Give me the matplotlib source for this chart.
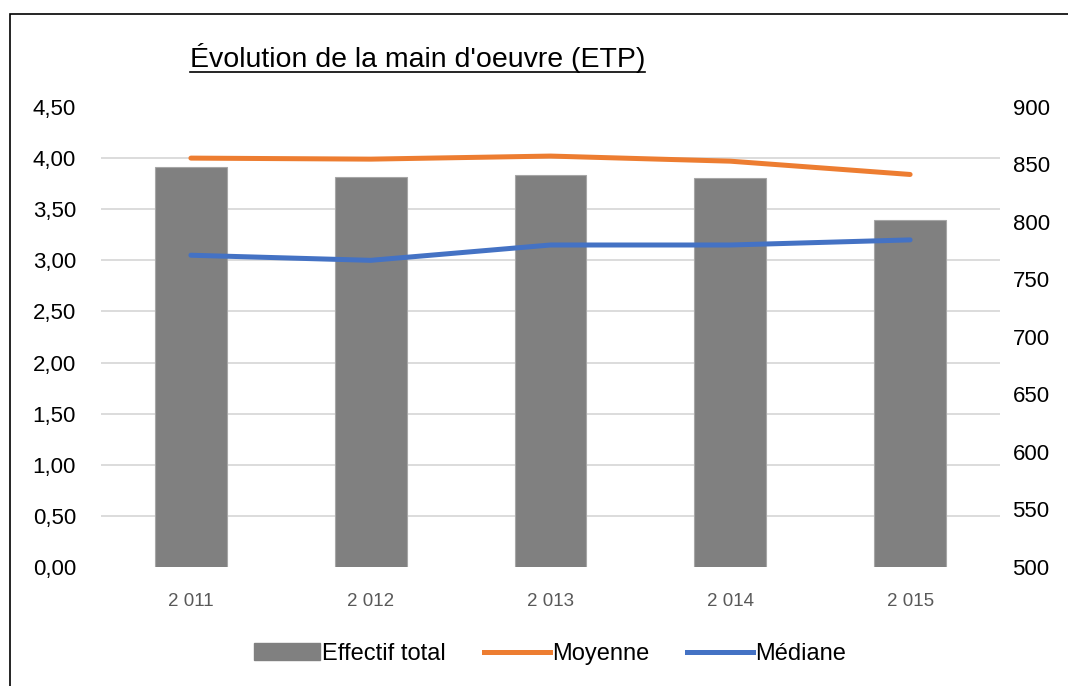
import numpy as np
import matplotlib.pyplot as plt
from matplotlib.lines import Line2D
from matplotlib.patches import Patch, Rectangle

annees = ["2 011", "2 012", "2 013", "2 014", "2 015"]
effectif_total = [848, 839, 841, 838, 802]
moyenne = [4.00, 3.99, 4.02, 3.97, 3.84]
mediane = [3.05, 3.00, 3.15, 3.15, 3.20]

gauche_ticks = np.arange(0, 4.51, 0.5)
droite_ticks = np.arange(500, 901, 50)

GRIS = "#808080"
ORANGE = "#ED7D31"
BLEU = "#4472C4"

plt.rcParams['font.family'] = ['Liberation Sans', 'DejaVu Sans']

fig = plt.figure(figsize=(10.68, 6.86), dpi=100)
ax = fig.add_axes([101 / 1068, 1 - 567 / 686, 899 / 1068, 460 / 686])
ax2 = ax.twinx()

x = np.arange(len(annees))

# barres sur l'axe secondaire, sous les courbes
ax2.bar(x, effectif_total, width=0.4, color=GRIS, edgecolor="#a6a6a6", linewidth=0.8, zorder=2)
ax2.set_ylim(500, 900)
ax2.set_yticks(droite_ticks)
ax2.set_yticklabels([f"{int(v)}" for v in droite_ticks])
# quadrillage de l'axe principal, tracé sous les barres
ax2.set_yticks(500 + gauche_ticks * 400 / 4.5, minor=True)
ax2.grid(axis='y', which='minor', color="#d9d9d9", linewidth=1.3, zorder=0)
ax2.grid(axis='y', which='major', visible=False)
ax2.set_axisbelow(True)

ax.plot(x, moyenne, color=ORANGE, linewidth=3.6, solid_capstyle='round')
ax.plot(x, mediane, color=BLEU, linewidth=3.6, solid_capstyle='round')
ax.set_ylim(0, 4.5)
ax.set_yticks(gauche_ticks)
ax.set_yticklabels([f"{v:.2f}".replace(".", ",") for v in gauche_ticks])
ax.set_xlim(-0.5, len(annees) - 0.5)
ax.set_xticks(x)
ax.set_xticklabels(annees, color="#595959")

ax.set_zorder(ax2.get_zorder() + 1)
ax.patch.set_visible(False)

for a in (ax, ax2):
    for s in a.spines.values():
        s.set_visible(False)
    a.tick_params(which='both', length=0, labelsize=16)
ax.tick_params(axis='y', pad=18)
ax2.tick_params(axis='y', pad=9)
ax.tick_params(axis='x', pad=19, labelsize=13.5)

# titre souligné
titre = fig.text(190 / 1068, 1 - 58 / 686, "Évolution de la main d'oeuvre (ETP)",
                 fontsize=20.5, ha='left', va='center')
fig.canvas.draw()
bb = titre.get_window_extent().transformed(fig.transFigure.inverted())
fig.add_artist(Line2D([bb.x0, bb.x1], [bb.y0 + 0.002, bb.y0 + 0.002], color='black', linewidth=1.2))

# cadre du graphique
fig.add_artist(Rectangle((10 / 1068, -0.1), 1.2, 1 - 14 / 686 + 0.1, transform=fig.transFigure,
                         fill=False, edgecolor='black', linewidth=1.2))

handles = [Patch(color=GRIS),
           Line2D([0], [0], color=ORANGE, linewidth=3.6),
           Line2D([0], [0], color=BLEU, linewidth=3.6)]
fig.legend(handles, ["Effectif total", "Moyenne", "Médiane"], loc='center',
           bbox_to_anchor=(550 / 1068, 1 - 654 / 686), ncol=3, frameon=False,
           fontsize=17, handlelength=2.8, handletextpad=0.1, columnspacing=1.6)

fig.savefig("out.png", dpi=100)
